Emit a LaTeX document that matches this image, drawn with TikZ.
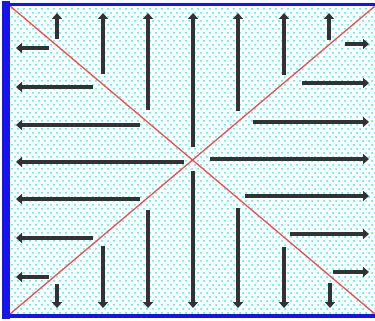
\documentclass[tikz,border=0pt]{standalone}
\usetikzlibrary{arrows.meta,patterns}
\definecolor{rimblue}{RGB}{20,20,235}
\definecolor{diagred}{RGB}{255,70,70}
\definecolor{shaft}{RGB}{50,50,50}
\pgfdeclarepatternformonly{spray}{\pgfqpoint{-1pt}{-1pt}}{\pgfqpoint{7pt}{9pt}}{\pgfqpoint{6pt}{8pt}}{%
  \pgfpathcircle{\pgfqpoint{0pt}{0pt}}{1pt}%
  \pgfpathcircle{\pgfqpoint{3pt}{4pt}}{1pt}%
  \pgfusepath{fill}}

\begin{document}
\begin{tikzpicture}[x=1pt, y=-1pt, >={Triangle[length=6pt,width=10pt]},
  ray/.style={->, line width=4pt, draw=shaft},
  diag/.style={draw=diagred, line width=1.3pt},
  rim/.style={draw=rimblue}]
  \useasboundingbox (0,0) rectangle (375,321);
  \coordinate (nw) at (10,6);
  \coordinate (ne) at (375,6);
  \coordinate (sw) at (10,314);
  \coordinate (se) at (375,314);
  % dotted ground
  \fill[white] (nw) rectangle (se);
  \fill[pattern=spray, pattern color=cyan] (nw) rectangle (se);
  % the two diagonals
  \draw[diag] (nw) -- (se);
  \draw[diag] (sw) -- (ne);
  % rays: up, down, left, right
  \foreach \x/\y in {57/39, 103/74, 148/110, 193/147, 238/111, 284/75, 329/40}
    \draw[ray] (\x,\y) -- (\x,13);
  \foreach \x/\y in {57/284, 103/246, 148/210, 193/171, 238/208, 284/247, 330/283}
    \draw[ray] (\x,\y) -- (\x,308);
  \foreach \y/\x in {48/49, 87/93, 125/140, 162/184, 199/140, 238/93, 277/49}
    \draw[ray] (\x,\y) -- (16,\y);
  \foreach \y/\x in {44/345, 83/302, 122/253, 159/210, 196/245, 234/290, 272/333}
    \draw[ray] (\x,\y) -- (369,\y);
  % frame
  \draw[rim, line width=8pt] (6,1) -- (6,319);
  \draw[rim, line width=3pt] (2,4.5) -- (375,4.5);
  \draw[rim, line width=4pt] (2,316) -- (375,316);
\end{tikzpicture}
\end{document}
